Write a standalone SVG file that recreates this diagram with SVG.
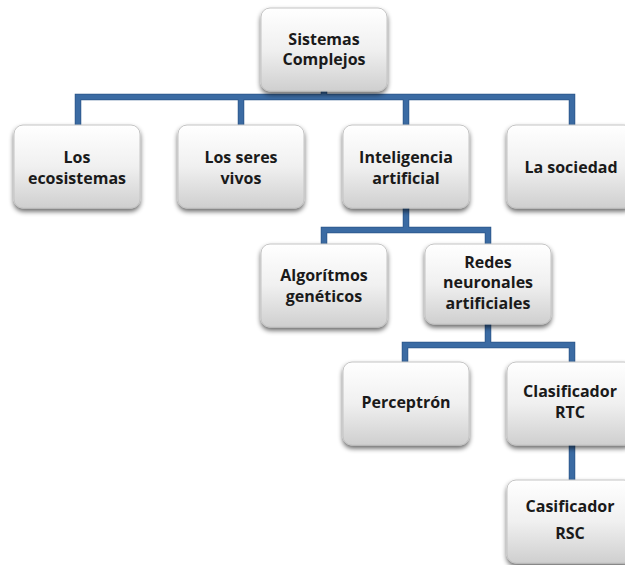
<svg xmlns="http://www.w3.org/2000/svg" width="625" height="565" viewBox="0 0 625 565">
<defs>
<linearGradient id="g" x1="0" y1="0" x2="0" y2="1">
<stop offset="0" stop-color="#ffffff"/>
<stop offset="0.5" stop-color="#f0f0f0"/>
<stop offset="1" stop-color="#cfcfcf"/>
</linearGradient>
<filter id="sh" x="-10%" y="-10%" width="125%" height="130%">
<feGaussianBlur in="SourceAlpha" stdDeviation="2.5"/>
<feOffset dx="0" dy="3" result="b"/>
<feComponentTransfer><feFuncA type="linear" slope="0.6"/></feComponentTransfer>
<feMerge><feMergeNode/><feMergeNode in="SourceGraphic"/></feMerge>
</filter>
</defs>
<style>
.box{fill:url(#g);stroke:#c4c4c4;stroke-width:1;filter:url(#sh)}
.t{font-family:"Open Sans","Liberation Sans",sans-serif;font-weight:bold;font-size:16px;fill:#1a1a1a;text-anchor:middle}
.c{fill:none;stroke:#3b6ba3;stroke-width:5;stroke-linejoin:miter}
.co{fill:none;stroke:#2b5486;stroke-width:6.5;stroke-linejoin:miter}
</style>
<rect width="625" height="565" fill="#ffffff"/>
<g id="connectors">
<path class="co" d="M324 90V97M78 125V97H572V125M241 97V125M406 97V125M406 206V230M324 244V230H488V244M488 323V345M405 362V345H572V362M572 444V480"/>
<path class="c" d="M324 90V97M78 125V97H572V125M241 97V125M406 97V125M406 206V230M324 244V230H488V244M488 323V345M405 362V345H572V362M572 444V480"/>
</g>
<g id="sistemas"><rect class="box" x="261" y="8" width="126" height="83" rx="9"/><text class="t" x="324" y="45">Sistemas</text><text class="t" x="324" y="65">Complejos</text></g>
<g id="ecosistemas"><rect class="box" x="14" y="125" width="126" height="83" rx="9"/><text class="t" x="77" y="163">Los</text><text class="t" x="77" y="184">ecosistemas</text></g>
<g id="seres"><rect class="box" x="178" y="125" width="126" height="83" rx="9"/><text class="t" x="241" y="163">Los seres</text><text class="t" x="241" y="184">vivos</text></g>
<g id="ia"><rect class="box" x="343" y="125" width="126" height="83" rx="9"/><text class="t" x="406" y="163">Inteligencia</text><text class="t" x="406" y="184">artificial</text></g>
<g id="sociedad"><rect class="box" x="507" y="125" width="126" height="83" rx="9"/><text class="t" x="571" y="173">La sociedad</text></g>
<g id="algoritmos"><rect class="box" x="261" y="244" width="126" height="83" rx="9"/><text class="t" x="324" y="281">Algorítmos</text><text class="t" x="324" y="302">genéticos</text></g>
<g id="redes"><rect class="box" x="425" y="244" width="126" height="80" rx="9"/><text class="t" x="488" y="268">Redes</text><text class="t" x="488" y="288">neuronales</text><text class="t" x="488" y="309">artificiales</text></g>
<g id="perceptron"><rect class="box" x="343" y="362" width="126" height="83" rx="9"/><text class="t" x="406" y="408">Perceptrón</text></g>
<g id="rtc"><rect class="box" x="507" y="362" width="126" height="83" rx="9"/><text class="t" x="570" y="397">Clasificador</text><text class="t" x="570" y="418">RTC</text></g>
<g id="rsc"><rect class="box" x="507" y="480" width="126" height="83" rx="9"/><text class="t" x="570" y="512">Casificador</text><text class="t" x="570" y="539">RSC</text></g>
</svg>
